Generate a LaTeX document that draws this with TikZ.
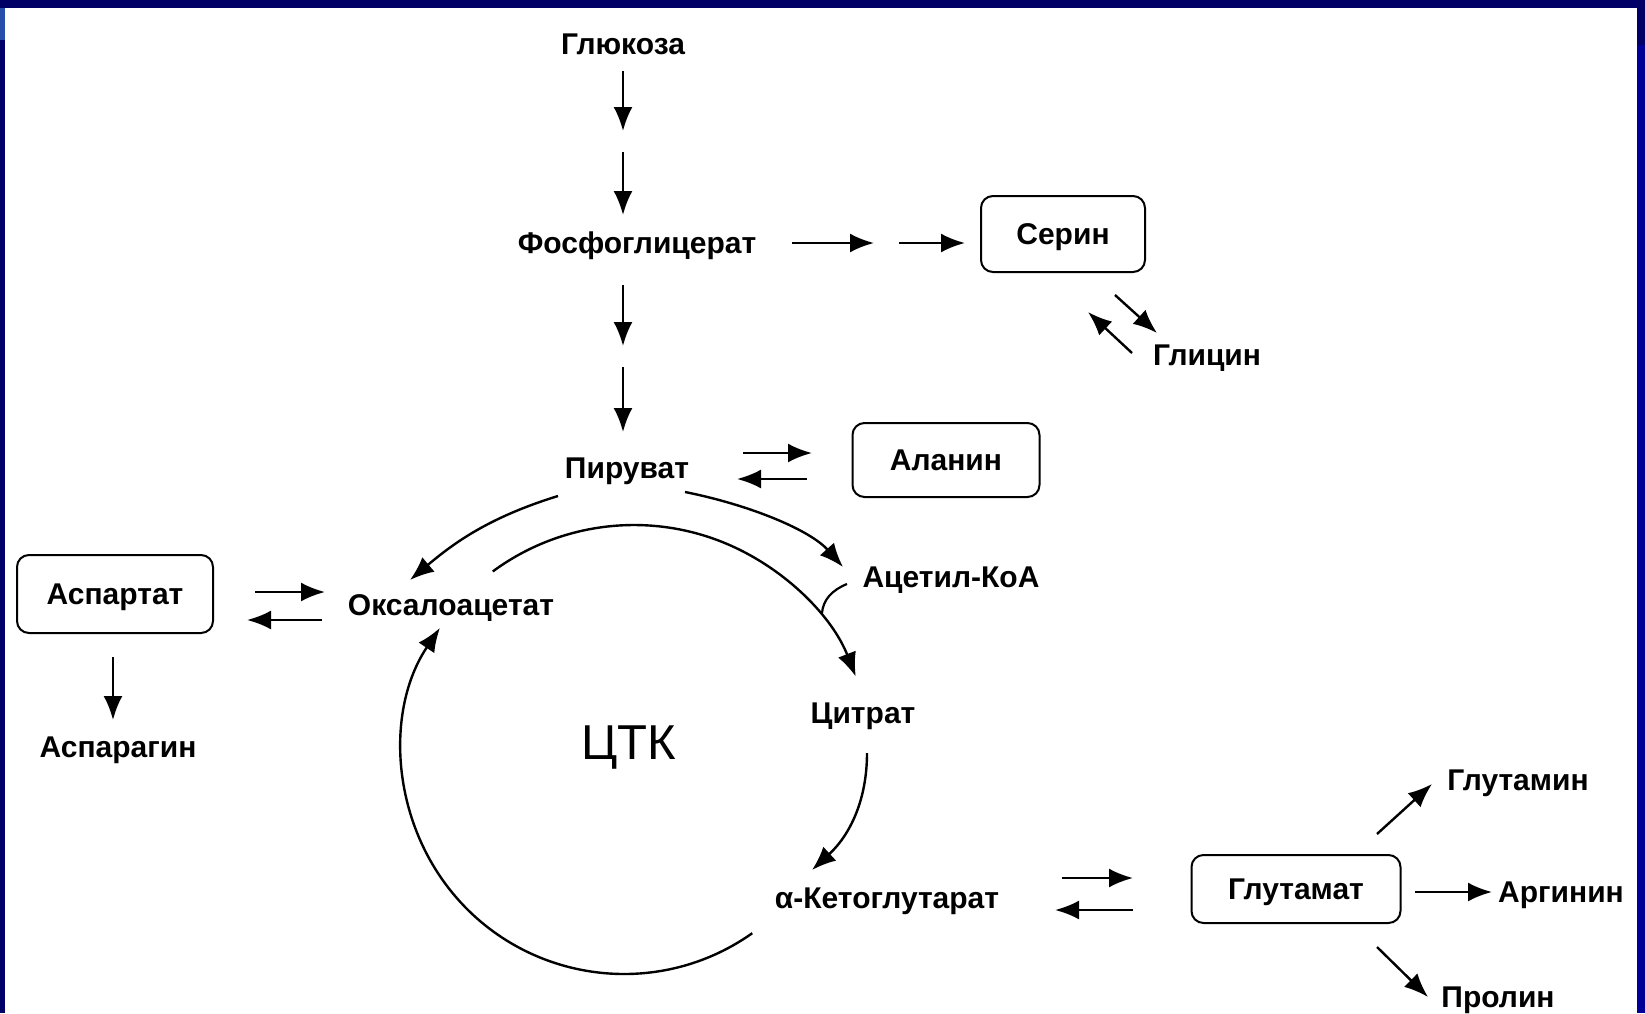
\documentclass[tikz,border=0pt]{standalone}
\usepackage{fontspec}
\setmainfont{Liberation Sans}
\usetikzlibrary{arrows.meta}
\definecolor{navyA}{RGB}{0,0,102}
\definecolor{blueB}{RGB}{0,0,153}
\definecolor{blueC}{RGB}{40,80,170}
\newcommand\lblfont{\fontsize{15}{18}\selectfont\bfseries}
\newcommand\bigfont{\fontsize{24.5}{28}\selectfont}
\tikzset{
  lbl/.style={font=\lblfont, inner sep=0pt, text height=10.7pt, text depth=0pt},
  boxnode/.style={lbl, draw, rounded corners=6pt, line width=1pt},
  bigl/.style={font=\bigfont, inner sep=0pt},
  arr/.style={line width=1.2pt, -{Latex[length=12pt,width=9.5pt]}},
  ln/.style={line width=1.1pt},
}
\begin{document}
\begin{tikzpicture}[x=0.5pt,y=-0.5pt]
\useasboundingbox (0,0) rectangle (1645,1013);
\fill[white] (0,0) rectangle (1645,1013);
% frame bands
\fill[navyA] (0,0) rectangle (1645,8);
\fill[navyA] (0,0) rectangle (5,1013);
\fill[blueC] (0,8) rectangle (5,40);
\fill[navyA] (1637,0) rectangle (1645,45);
\fill[blueB] (1637,45) rectangle (1645,1013);

% nodes
\node[lbl] (glu) at (623,44) {Глюкоза};
\node[lbl] (fg) at (637,243) {Фосфоглицерат};
\node[boxnode, minimum width=82pt, minimum height=38pt] (ser) at (1063,234) {Серин};
\node[lbl] (gly) at (1207,355) {Глицин};
\node[lbl] (pyr) at (627,468) {Пируват};
\node[boxnode, minimum width=93.5pt, minimum height=37pt] (ala) at (946,460) {Аланин};
\node[lbl] (acoa) at (951,577) {Ацетил-КоА};
\node[lbl] (oaa) at (451,605) {Оксалоацетат};
\node[boxnode, minimum width=98pt, minimum height=39pt] (asp) at (115,594) {Аспартат};
\node[lbl] (asn) at (118,747) {Аспарагин};
\node[lbl] (cit) at (863,713) {Цитрат};
\node[bigl] (tck) at (629,748) {ЦТК};
\node[lbl] (akg) at (887,898) {α-Кетоглутарат};
\node[boxnode, minimum width=104.5pt, minimum height=34pt] (glut) at (1296,889) {Глутамат};
\node[lbl] (gln) at (1518,780) {Глутамин};
\node[lbl] (arg) at (1561,892) {Аргинин};
\node[lbl] (pro) at (1498,997) {Пролин};

% arrow end coordinates
\coordinate (g1) at (623,71);  \coordinate (g2) at (623,131);
\coordinate (g3) at (623,152); \coordinate (g4) at (623,215);
\coordinate (p1) at (623,285); \coordinate (p2) at (623,346);
\coordinate (p3) at (623,367); \coordinate (p4) at (623,432);
\coordinate (s1) at (792,243); \coordinate (s2) at (874,243);
\coordinate (s3) at (899,243); \coordinate (s4) at (965,243);
\coordinate (y1) at (1115,295); \coordinate (y2) at (1157,333);
\coordinate (y3) at (1132,353); \coordinate (y4) at (1088,312);
\coordinate (a1) at (743,453); \coordinate (a2) at (812,453);
\coordinate (a3) at (807,479); \coordinate (a4) at (737,479);
\coordinate (o1) at (255,592); \coordinate (o2) at (325,592);
\coordinate (o3) at (322,620); \coordinate (o4) at (247,620);
\coordinate (n1) at (113,657); \coordinate (n2) at (113,720);
\coordinate (k1) at (1062,878); \coordinate (k2) at (1133,878);
\coordinate (k3) at (1133,910); \coordinate (k4) at (1055,910);
\coordinate (m1) at (1377,834); \coordinate (m2) at (1432,784);
\coordinate (r1) at (1415,892); \coordinate (r2) at (1492,892);
\coordinate (q1) at (1377,947); \coordinate (q2) at (1428,997);

\draw[arr] (g1) -- (g2); \draw[arr] (g3) -- (g4);
\draw[arr] (p1) -- (p2); \draw[arr] (p3) -- (p4);
\draw[arr] (s1) -- (s2); \draw[arr] (s3) -- (s4);
\draw[arr] (y1) -- (y2); \draw[arr] (y3) -- (y4);
\draw[arr] (a1) -- (a2); \draw[arr] (a3) -- (a4);
\draw[arr] (o1) -- (o2); \draw[arr] (o3) -- (o4);
\draw[arr] (n1) -- (n2);
\draw[arr] (k1) -- (k2); \draw[arr] (k3) -- (k4);
\draw[arr] (m1) -- (m2);
\draw[arr] (r1) -- (r2);
\draw[arr] (q1) -- (q2);

% pyruvate branches
\coordinate (c1) at (558,496); \coordinate (c2) at (410,580);
\draw[arr] (c1) .. controls (490,517) and (455,542) .. (c2);
\coordinate (c3) at (685,492); \coordinate (c4) at (843,567);
\draw[arr] (c3) .. controls (750,505) and (810,530) .. (c4);

% TCA cycle
\coordinate (tc) at (634,763);
\draw[arr] ([shift={(233.6:238)}]tc) arc[start angle=233.6, end angle=338.7, radius=238];
\coordinate (h1) at (847,584); \coordinate (h2) at (822,613);
\draw[ln] (h1) .. controls (832,590) and (823,600) .. (h2);
\coordinate (d1) at (867,753); \coordinate (d2) at (812,870);
\draw[arr] (d1) .. controls (867,800) and (850,835) .. (d2);
\coordinate (bc) at (624,752);
\draw[arr] ([shift={(54.7:222)}]bc) arc[start angle=54.7, end angle=214, radius=222];
\end{tikzpicture}
\end{document}
